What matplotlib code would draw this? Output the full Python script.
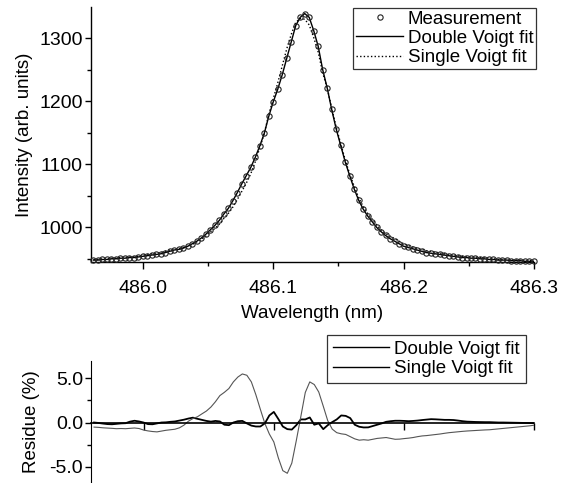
import numpy as np
import matplotlib.pyplot as plt
from matplotlib.ticker import MultipleLocator, FixedLocator, NullFormatter

plt.rcParams['font.family'] = ['Liberation Sans', 'DejaVu Sans']
plt.rcParams['axes.unicode_minus'] = False

# spectrometer grid (nm), 99 pixels
wl_start, wl_stop, n_pix = 485.962, 486.300, 99
wavelength = np.linspace(wl_start, wl_stop, n_pix)

# measured intensity (arb. units)
measurement = [948, 948, 949, 949, 950, 950, 951, 951, 952, 952,
               953, 954, 955, 956, 957, 958, 960, 962, 964, 965,
               967, 970, 974, 978, 983, 989, 996, 1003, 1011, 1021,
               1030, 1042, 1055, 1069, 1082, 1095, 1111, 1129, 1149, 1176,
               1199, 1219, 1242, 1268, 1294, 1320, 1333, 1339, 1333, 1312,
               1287, 1250, 1221, 1187, 1156, 1130, 1104, 1082, 1061, 1043,
               1029, 1018, 1009, 1000, 993, 987, 982, 978, 974, 970,
               968, 966, 964, 962, 960, 959, 958, 957, 956, 955,
               954, 953, 952, 952, 951, 951, 950, 950, 949, 949,
               948, 948, 948, 947, 947, 947, 946, 946, 946]

# double Voigt fit follows the measurement
double_fit = list(measurement)

# single Voigt fit
single_fit = [949, 949, 950, 950, 951, 951, 952, 952, 953, 953,
              954, 956, 957, 958, 959, 960, 962, 964, 965, 966,
              968, 970, 973, 977, 981, 986, 993, 998, 1005, 1014,
              1022, 1032, 1044, 1057, 1070, 1085, 1104, 1126, 1149, 1179,
              1204, 1229, 1256, 1283, 1306, 1325, 1331, 1330, 1321, 1301,
              1278, 1245, 1221, 1189, 1159, 1133, 1107, 1085, 1065, 1047,
              1033, 1022, 1013, 1004, 996, 990, 986, 982, 978, 974,
              971, 969, 967, 965, 963, 962, 961, 959, 958, 957,
              956, 955, 954, 954, 953, 953, 952, 952, 951, 950,
              949, 949, 949, 948, 948, 948, 947, 947, 947]

# residues (%)
res_double = [0.0, -0.05, -0.12, -0.18, -0.2, -0.15, -0.1, -0.08, 0.1, 0.2,
              0.12, 0.0, -0.18, -0.2, -0.1, 0.0, 0.02, 0.08, 0.12, 0.22,
              0.32, 0.45, 0.55, 0.42, 0.3, 0.18, 0.1, 0.18, 0.12, -0.25,
              -0.3, 0.0, 0.15, 0.18, -0.1, -0.35, -0.45, -0.45, -0.1, 0.8,
              1.2, 0.4, -0.45, -0.75, -0.8, -0.3, 0.35, 0.35, 0.57, -0.25,
              -0.1, -0.75, -0.3, 0.05, 0.35, 0.8, 0.75, 0.5, -0.25, -0.48,
              -0.56, -0.55, -0.4, -0.25, -0.1, 0.08, 0.15, 0.2, 0.2, 0.18,
              0.15, 0.18, 0.22, 0.28, 0.33, 0.38, 0.36, 0.33, 0.3, 0.3,
              0.28, 0.22, 0.15, 0.1, 0.08, 0.06, 0.05, 0.04, 0.04, 0.02,
              0.0, 0.0, -0.01, -0.02, -0.03, -0.04, -0.05, -0.06, -0.07]
res_single = [-0.52, -0.55, -0.6, -0.63, -0.66, -0.7, -0.68, -0.7, -0.66, -0.62,
              -0.68, -0.85, -0.95, -1.02, -1.06, -0.97, -0.88, -0.82, -0.76, -0.6,
              -0.3, 0.15, 0.45, 0.65, 0.98, 1.3, 1.75, 2.35, 3.05, 3.42,
              3.85, 4.6, 5.15, 5.5, 5.35, 4.6, 3.15, 1.5, -0.1, -1.3,
              -2.2, -4.0, -5.45, -5.75, -4.6, -2.05, 0.65, 3.4, 4.6, 4.3,
              3.45, 1.85, 0.2, -0.75, -1.15, -1.28, -1.35, -1.6, -1.85, -2.0,
              -1.95, -2.0, -1.9, -1.8, -1.75, -1.7, -1.8, -1.9, -1.88, -1.82,
              -1.77, -1.7, -1.6, -1.52, -1.48, -1.42, -1.36, -1.3, -1.22, -1.15,
              -1.1, -1.05, -1.0, -0.96, -0.93, -0.9, -0.87, -0.84, -0.82, -0.77,
              -0.72, -0.67, -0.62, -0.57, -0.52, -0.47, -0.42, -0.37, -0.3]

fig = plt.figure(figsize=(5.68, 4.83), dpi=100)
ax1 = fig.add_axes([0.160, 0.4576, 0.780, 0.528])
ax2 = fig.add_axes([0.161, 0.0, 0.780, 0.2532])

# top panel
ax1.plot(wavelength, double_fit, color='black', lw=1.0, label='Double Voigt fit', zorder=2)
ax1.plot(wavelength, single_fit, color='black', lw=1.0, ls=(0, (1, 1.6)), label='Single Voigt fit', zorder=2)
ax1.plot(wavelength, measurement, ls='none', marker='o', ms=3.8, mfc='none',
         mec='#222222', mew=0.8, label='Measurement', zorder=3, clip_on=False)

ax1.set_xlim(485.96, 486.30)
ax1.set_ylim(945, 1349.5)
ax1.xaxis.set_major_locator(FixedLocator([486.0, 486.1, 486.2, 486.3]))
ax1.xaxis.set_minor_locator(MultipleLocator(0.05))
ax1.set_xticklabels(['486.0', '486.1', '486.2', '486.3'])
ax1.yaxis.set_major_locator(FixedLocator([1000, 1100, 1200, 1300]))
ax1.yaxis.set_minor_locator(MultipleLocator(50))
for s in ['top', 'right']:
    ax1.spines[s].set_visible(False)
for s in ['left', 'bottom']:
    ax1.spines[s].set_linewidth(1.0)
ax1.tick_params(axis='x', which='major', direction='out', length=5, width=1, labelsize=14, pad=8)
ax1.tick_params(axis='y', which='major', direction='out', length=4, width=1, labelsize=14, pad=2)
ax1.tick_params(which='minor', direction='out', length=3, width=1)
ax1.set_xlabel('Wavelength (nm)', fontsize=13.5, labelpad=6)
ax1.set_ylabel('Intensity (arb. units)', fontsize=13.5, labelpad=4)

h, l = ax1.get_legend_handles_labels()
leg1 = ax1.legend([h[2], h[0], h[1]], [l[2], l[0], l[1]], loc='upper right',
                  bbox_to_anchor=(1.005, 0.997), fontsize=13.5, frameon=True, fancybox=False,
                  edgecolor='black', borderpad=0.15, handlelength=2.5, handletextpad=0.25,
                  labelspacing=0.12, borderaxespad=0.0, markerscale=1.0)
leg1.get_frame().set_linewidth(0.9)

# bottom panel
ax2.plot(wavelength, res_double, color='black', lw=1.3, label='Double Voigt fit')
ax2.plot(wavelength, res_single, color='#555555', lw=0.8, label='Single Voigt fit')
ax2.set_xlim(485.96, 486.30)
ax2.set_ylim(-6.85, 7.0)
ax2.yaxis.set_major_locator(FixedLocator([-5, 0, 5]))
ax2.yaxis.set_minor_locator(FixedLocator([-2.5, 2.5]))
ax2.set_yticklabels(['-5.0', '0.0', '5.0'])
ax2.xaxis.set_major_locator(FixedLocator([486.0, 486.1, 486.2, 486.3]))
ax2.xaxis.set_major_formatter(NullFormatter())
for s in ['top', 'right']:
    ax2.spines[s].set_visible(False)
ax2.spines['bottom'].set_position(('data', 0))
ax2.spines['bottom'].set_linewidth(1.2)
ax2.tick_params(axis='x', which='major', direction='out', length=5, width=1)
ax2.tick_params(axis='y', which='major', direction='out', length=4, width=1, labelsize=14, pad=2)
ax2.tick_params(which='minor', direction='out', length=3, width=1)
ax2.set_ylabel('Residue (%)', fontsize=13.5, labelpad=7)
leg2 = ax2.legend(loc='upper right', bbox_to_anchor=(0.98, 1.21), fontsize=13.5, frameon=True,
                  fancybox=False, edgecolor='black', borderpad=0.3, handlelength=3.0,
                  handletextpad=0.3, labelspacing=0.12, borderaxespad=0.0)
leg2.get_frame().set_linewidth(0.9)
for ln in leg2.get_lines():
    ln.set_color('black')
    ln.set_linewidth(1.0)

fig.savefig('out.png', dpi=100)
